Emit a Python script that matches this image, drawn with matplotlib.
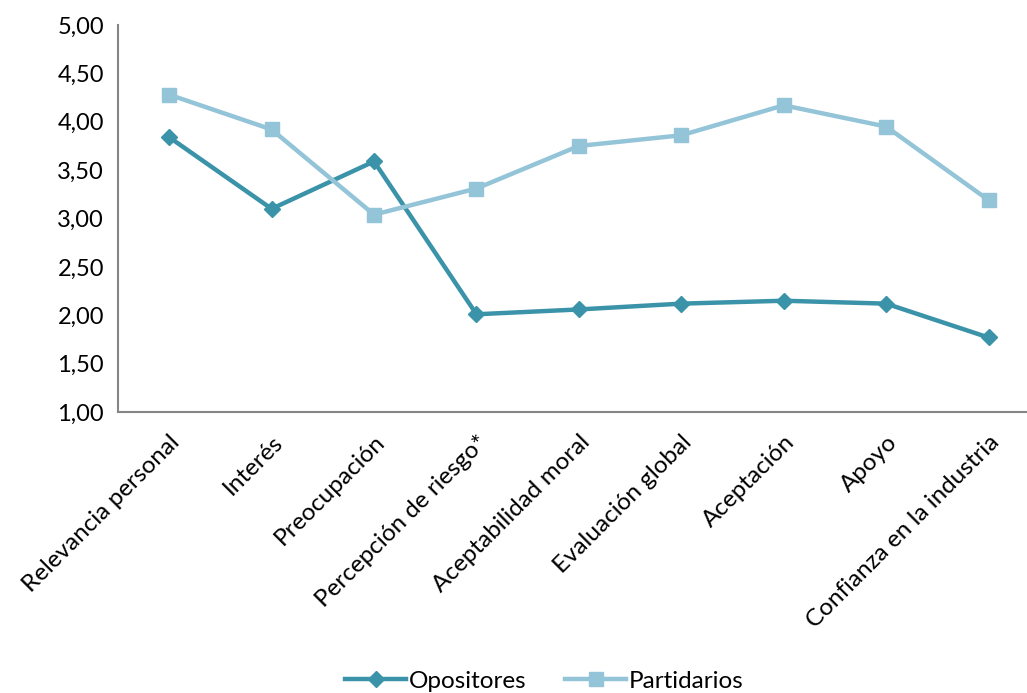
import numpy as np
import matplotlib.pyplot as plt
from matplotlib.ticker import FuncFormatter

categorias = ['Relevancia personal', 'Interés', 'Preocupación', 'Percepción de riesgo*',
              'Aceptabilidad moral', 'Evaluación global', 'Aceptación', 'Apoyo',
              'Confianza en la industria']
opositores = [3.84, 3.10, 3.59, 2.01, 2.06, 2.12, 2.15, 2.12, 1.77]
partidarios = [4.28, 3.92, 3.04, 3.31, 3.75, 3.86, 4.17, 3.95, 3.19]

plt.rcParams['font.family'] = ['Lato', 'DejaVu Sans']
plt.rcParams['font.size'] = 17

fig = plt.figure(figsize=(10.27, 6.93), dpi=100)
ax = fig.add_axes([0.1149, 0.4055, 0.8975, 0.5584])

x = np.arange(len(categorias))
ax.plot(x, opositores, color='#3A93A9', lw=3.2, marker='D', ms=8, label='Opositores')
ax.plot(x, partidarios, color='#93C4D8', lw=3.2, marker='s', ms=10, label='Partidarios')

ax.set_xlim(-0.5, 8.5)
ax.set_ylim(1, 5)
ax.set_yticks(np.arange(1, 5.01, 0.5))
ax.yaxis.set_major_formatter(FuncFormatter(lambda v, p: f'{v:.2f}'.replace('.', ',')))
ax.set_xticks(x)
ax.set_xticklabels(categorias, rotation=45, ha='right', rotation_mode='anchor', fontsize=17.5)
ax.tick_params(axis='x', length=0, pad=14)
ax.tick_params(axis='y', length=0, pad=10)
for s in ['top', 'right']:
    ax.spines[s].set_visible(False)
for s in ['left', 'bottom']:
    ax.spines[s].set_color('#868686')
    ax.spines[s].set_linewidth(1.5)

fig.legend(loc='lower center', bbox_to_anchor=(0.53, -0.03), ncol=2, frameon=False,
           handlelength=2.5, handletextpad=0.1, columnspacing=1.6, fontsize=17.5)

fig.savefig('out.png', dpi=100)
